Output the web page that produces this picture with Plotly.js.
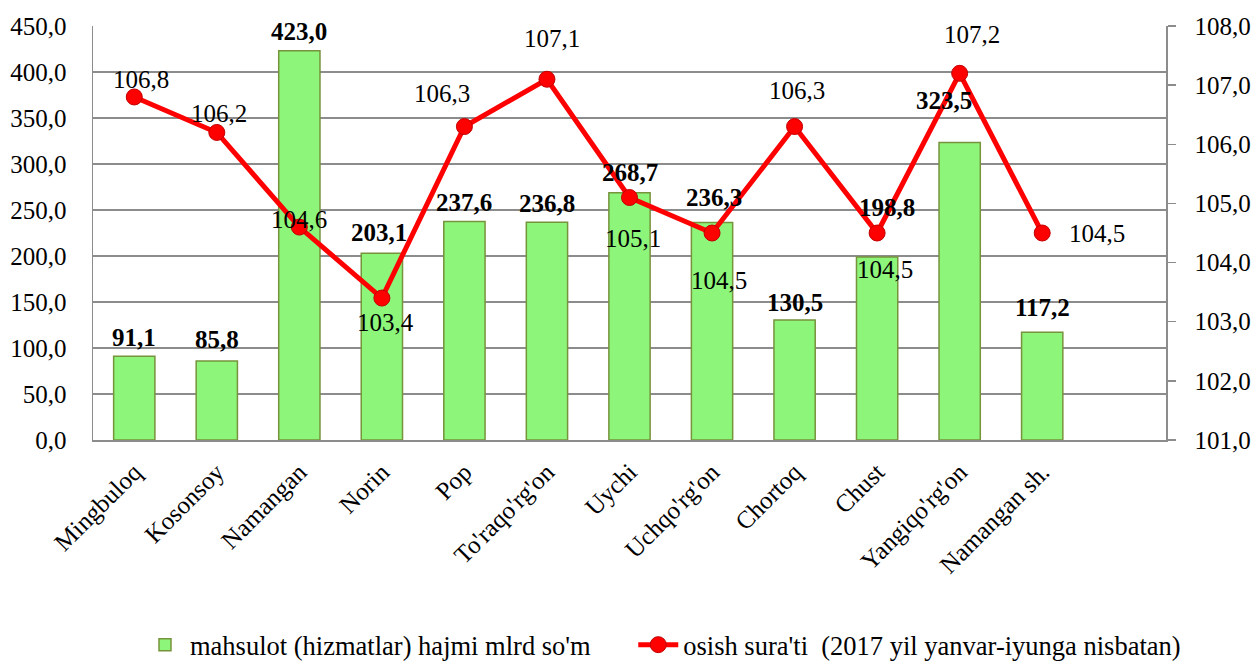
<!DOCTYPE html>
<html>
<head>
<meta charset="utf-8">
<script src="https://cdn.plot.ly/plotly-3.0.1.min.js"></script>
<style>html,body{margin:0;padding:0;background:#fff}#chart{width:1252px;height:662px}</style>
</head>
<body>
<div id="chart"></div>
<script>
const categories = ["Mingbuloq", "Kosonsoy", "Namangan", "Norin", "Pop", "To'raqo'rg'on", "Uychi", "Uchqo'rg'on", "Chortoq", "Chust", "Yangiqo'rg'on", "Namangan sh."];
const volume = [91.1, 85.8, 423.0, 203.1, 237.6, 236.8, 268.7, 236.3, 130.5, 198.8, 323.5, 117.2];
const growth = [106.8, 106.2, 104.6, 103.4, 106.3, 107.1, 105.1, 104.5, 106.3, 104.5, 107.2, 104.5];
const seriesNames = ["mahsulot (hizmatlar) hajmi mlrd so'm", "osish sura'ti  (2017 yil yanvar-iyunga nisbatan)"];

// label placement offsets (pixels)
const barLabelDx = [0, 0, 0, -3, 0, 0, 0, 2, 0, 10, -16, 0];
const barLabelDy = [19, 22, 19, 21, 19, 19, 20, 25, 17, 50, 42, 25];
const lineLabelDx = [7, 2, 0, 4, -22, 5, 3, 7, 2, 8, 12, 55];
const lineLabelDy = [17, 19, 8, -24, 33, 41, -41, -47, 36, -36, 39, 0];

const fmt = v => v.toFixed(1).replace('.', ',');
const FONT = "Liberation Serif";

const annotations = [];
categories.forEach((c, i) => {
  annotations.push({
    x: c, y: volume[i], xref: 'x', yref: 'y', text: '<b>' + fmt(volume[i]) + '</b>',
    showarrow: false, xanchor: 'center', yanchor: 'middle',
    xshift: barLabelDx[i], yshift: barLabelDy[i],
    font: {family: FONT, size: 25, color: '#000'}
  });
  annotations.push({
    x: c, y: growth[i], xref: 'x', yref: 'y2', text: fmt(growth[i]),
    showarrow: false, xanchor: 'center', yanchor: 'middle',
    xshift: lineLabelDx[i], yshift: lineLabelDy[i],
    font: {family: FONT, size: 25, color: '#000'}
  });
});

const traces = [
  {
    type: 'bar', name: seriesNames[0], x: categories, y: volume, yaxis: 'y',
    marker: {color: '#8CF57A', line: {color: '#77933C', width: 1.5}},
    hoverinfo: 'x+y', legend: 'legend'
  },
  {
    type: 'scatter', mode: 'lines+markers', name: seriesNames[1], x: categories, y: growth, yaxis: 'y2',
    line: {color: '#FF0000', width: 5},
    marker: {size: 16, color: '#FF0000', line: {color: '#C00000', width: 1}},
    cliponaxis: false, legend: 'legend2'
  }
];

const legendStyle = {
  orientation: 'h', xanchor: 'left', y: -0.495, yanchor: 'middle',
  font: {family: FONT, size: 26.5, color: '#000'}, itemwidth: 40,
  bgcolor: 'rgba(0,0,0,0)', borderwidth: 0
};

const layout = {
  width: 1252, height: 662,
  margin: {l: 93, r: 86, t: 26, b: 222, autoexpand: false},
  paper_bgcolor: '#fff', plot_bgcolor: '#fff',
  separators: ', ',
  font: {family: FONT, size: 25, color: '#000'},
  bargap: 0.5,
  showlegend: true,
  legend: Object.assign({}, legendStyle, {x: 0.0438}),
  legend2: Object.assign({}, legendStyle, {x: 0.5035}),
  xaxis: {
    type: 'category', range: [-0.5, 12.5], tickangle: -45,
    showline: true, linecolor: '#8c8c8c', linewidth: 1.5,
    showgrid: false, ticks: '', tickfont: {family: FONT, size: 25, color: '#000'},
    ticklabelstandoff: 6, fixedrange: true
  },
  yaxis: {
    range: [0, 450], dtick: 50, tickformat: '.1f',
    showline: true, linecolor: '#8c8c8c', linewidth: 1.5,
    showgrid: true, gridcolor: '#8c8c8c', gridwidth: 1.5, zeroline: false,
    ticks: '', ticklabelstandoff: 20,
    tickfont: {family: FONT, size: 25, color: '#000'}
  },
  yaxis2: {
    overlaying: 'y', side: 'right', range: [101, 108], dtick: 1, tickformat: '.1f',
    showline: true, linecolor: '#8c8c8c', linewidth: 1.5,
    showgrid: false, zeroline: false,
    ticks: 'outside', ticklen: 8, tickwidth: 1.5, tickcolor: '#8c8c8c', ticklabelstandoff: 14,
    tickfont: {family: FONT, size: 25, color: '#000'}
  },
  annotations: annotations
};

Plotly.newPlot('chart', traces, layout, {displayModeBar: false, staticPlot: true});
</script>
</body>
</html>
